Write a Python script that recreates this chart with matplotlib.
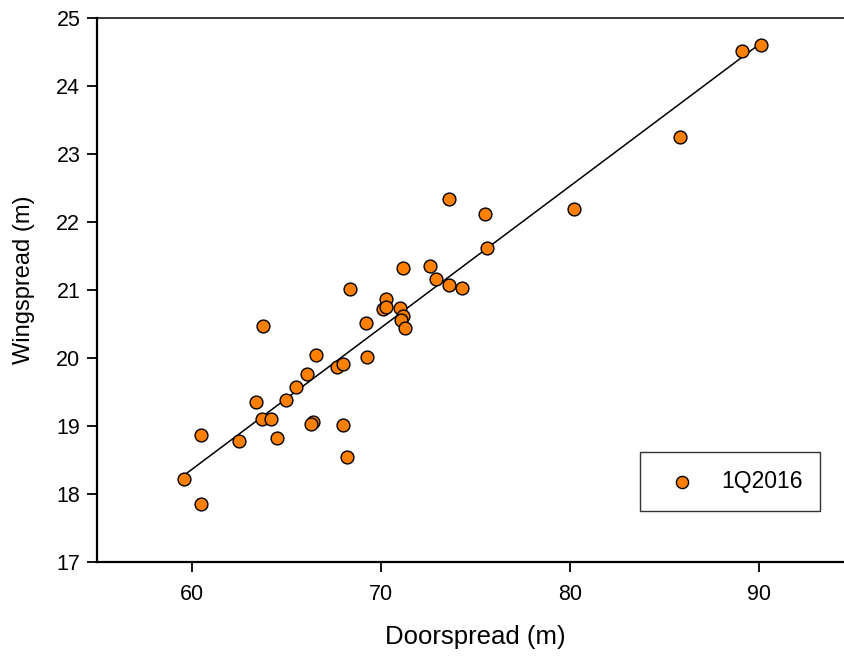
import numpy as np
import matplotlib.pyplot as plt

plt.rcParams['font.family'] = ['Liberation Sans', 'DejaVu Sans']

# Trawl geometry survey, first quarter 2016
doorspread = [59.6, 60.5, 60.5, 62.5, 63.4, 63.8, 63.7, 64.2, 64.5, 65.0,
              65.5, 66.1, 66.6, 66.4, 66.3, 68.0, 68.2, 67.7, 68.0, 68.4,
              69.2, 69.3, 70.1, 70.3, 70.3, 71.0, 71.2, 71.1, 71.3, 71.2,
              72.6, 72.9, 73.6, 74.3, 73.6, 75.5, 75.6, 80.2, 85.8, 89.1,
              90.1]
wingspread = [18.22, 17.86, 18.87, 18.78, 19.35, 20.47, 19.10, 19.10, 18.82, 19.38,
              19.57, 19.76, 20.04, 19.06, 19.03, 19.01, 18.54, 19.87, 19.91, 21.01,
              20.51, 20.01, 20.72, 20.87, 20.75, 20.74, 20.62, 20.56, 20.44, 21.32,
              21.36, 21.16, 21.07, 21.03, 22.34, 22.12, 21.62, 22.19, 23.25, 24.51,
              24.60]
series_label = '1Q2016'

x = np.array(doorspread)
y = np.array(wingspread)
slope, intercept = np.polyfit(x, y, 1)
fit_x = np.array([x.min(), x.max()])

fig = plt.figure(figsize=(8.45, 6.6), dpi=100)
ax = fig.add_axes([0.1147, 0.1485, 0.8955, 0.8242])

ax.plot(fit_x, slope * fit_x + intercept, color='black', lw=1.1, zorder=2)
ax.scatter(x, y, s=85, color='#ff8000', edgecolor='black', linewidth=1.0,
           zorder=3, label=series_label)

ax.set_xlim(55, 95)
ax.set_ylim(17, 25)
ax.set_xticks([60, 70, 80, 90])
ax.set_yticks(range(17, 26))

for side in ['left', 'bottom']:
    ax.spines[side].set_linewidth(1.6)
ax.spines['top'].set_linewidth(1.1)
ax.spines['right'].set_visible(False)
ax.tick_params(direction='out', length=7, width=1.3, labelsize=15.5)
ax.tick_params(axis='x', pad=9)
ax.tick_params(axis='y', pad=5)

ax.set_xlabel('Doorspread (m)', fontsize=18.5, labelpad=14)
ax.set_ylabel('Wingspread (m)', fontsize=17)
ax.yaxis.set_label_coords(-0.082, 0.518)

leg = ax.legend(loc='lower left', bbox_to_anchor=(0.7177, 0.0938), borderaxespad=0,
                fontsize=16.5, frameon=True, fancybox=False, edgecolor='black',
                borderpad=0.78, handletextpad=0.65, handlelength=2.1,
                markerscale=0.95)
leg.get_frame().set_linewidth(1.0)

fig.savefig('out.png', dpi=100)
